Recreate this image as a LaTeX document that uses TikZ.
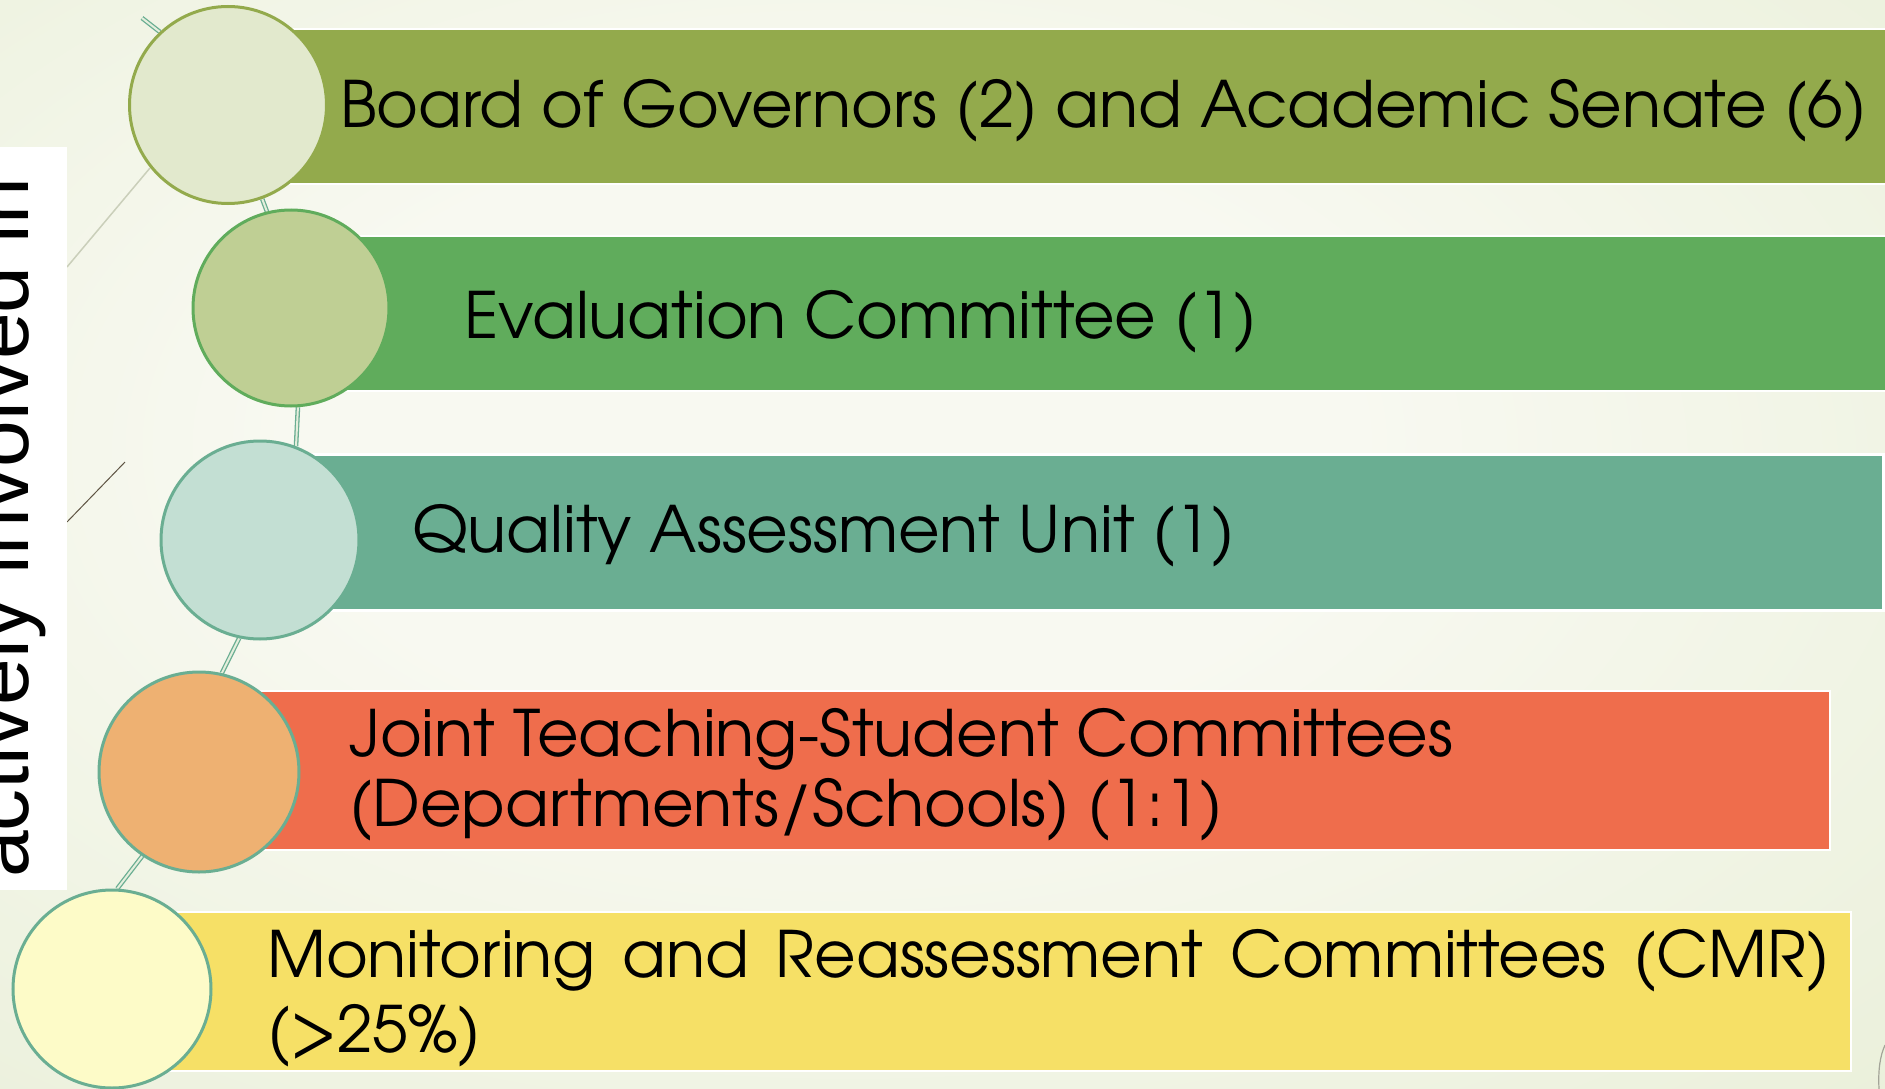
\documentclass[tikz,border=0pt]{standalone}
\usepackage{fontspec}
\setmainfont{TeX Gyre Adventor}
\newfontfamily\sidefont{Liberation Sans}
\definecolor{bgmid}{HTML}{F8F9F1}
\definecolor{bgedge}{HTML}{E6EDD3}
\definecolor{bgcorner}{HTML}{E0E8CB}
\definecolor{barA}{HTML}{93AA4C}
\definecolor{barB}{HTML}{60AC5C}
\definecolor{barC}{HTML}{6AAE92}
\definecolor{barD}{HTML}{EF6D4C}
\definecolor{barE}{HTML}{F6E066}
\definecolor{cirA}{HTML}{E2E9CD}
\definecolor{cirB}{HTML}{BFCF94}
\definecolor{cirC}{HTML}{C3DFD3}
\definecolor{cirD}{HTML}{EEB172}
\definecolor{cirE}{HTML}{FDFBC8}
\definecolor{connin}{HTML}{E4EEDC}
\definecolor{decoA}{HTML}{CACFBA}
\definecolor{decoB}{HTML}{5E5443}
\definecolor{decoC}{HTML}{A3A498}
\pgfdeclareradialshading{bgshade}{\pgfpoint{-4bp}{6bp}}{color(0bp)=(bgmid); color(14bp)=(bgmid); color(48bp)=(bgedge); color(72bp)=(bgcorner)}
\pgfdeclarelayer{bglayer}
\pgfdeclarelayer{midlayer}
\pgfsetlayers{bglayer,midlayer,main}
\tikzset{
  circ/.style={circle, inner sep=0pt, line width=3pt},
  barbox/.style={rectangle, inner sep=0pt, draw=white, line width=2pt, anchor=north west},
  bartext/.style={inner sep=0pt, anchor=base west, text=black, font=\fontsize{64}{72}\selectfont},
  conn/.style={draw=barC, line width=1.3pt, double=connin, double distance=2pt},
}
\begin{document}
\begin{tikzpicture}[x=1pt,y=-1pt]
\useasboundingbox (0,0) rectangle (1885,1089);
% circles
\node[circ, fill=cirA, draw=barA, minimum size=197pt] (c1) at (228,105) {};
\node[circ, fill=cirB, draw=barB, minimum size=196pt] (c2) at (291,308) {};
\node[circ, fill=cirC, draw=barC, minimum size=198pt] (c3) at (260,540) {};
\node[circ, fill=cirD, draw=barC, minimum size=200pt] (c4) at (199,772) {};
\node[circ, fill=cirE, draw=barC, minimum size=198pt] (c5) at (112,989) {};
% text
\node[bartext] (t1) at (340,128) {Board of Governors (2) and Academic Senate (6)};
\node[bartext] (t2) at (464,338) {Evaluation Committee (1)};
\node[bartext] (t3) at (412,552) {Quality Assessment Unit (1)};
\node[bartext] (t4a) at (349,756) {Joint Teaching-Student Committees};
\node[bartext] (t4b) at (349,826) {(Departments/Schools) (1:1)};
\node[bartext] (t5a) at (267,977) {\makebox[1563pt][s]{Monitoring and Reassessment Committees (CMR)}};
\node[bartext] (t5b) at (267,1052) {(>25\%)};
\begin{pgfonlayer}{midlayer}
\node[barbox, fill=barA, minimum width=1670pt, minimum height=155pt] (b1) at (228,28) {};
\node[barbox, fill=barB, minimum width=1610pt, minimum height=155pt] (b2) at (291,235) {};
\node[barbox, fill=barC, minimum width=1622pt, minimum height=156pt, line width=3pt] (b3) at (260,453) {};
\node[barbox, fill=barD, minimum width=1630pt, minimum height=159pt] (b4) at (199,690) {};
\node[barbox, fill=barE, minimum width=1738pt, minimum height=159pt] (b5) at (112,911) {};
\coordinate (spinetop) at (142,18);
\draw[conn] (spinetop) -- (c1.133);
\draw[conn] (c1.290) -- (c2.104);
\draw[conn] (c2.274) -- (c3.69);
\draw[conn] (c3.258) -- (c4.77);
\draw[conn] (c4.236) -- (c5.87);
\end{pgfonlayer}
\begin{pgfonlayer}{bglayer}
\shade[shading=bgshade] (0,0) rectangle (1885,1089);
\draw[decoA, line width=1.5pt] (67,267) -- (150,168);
\draw[decoB, line width=1pt] (67,522) -- (125,462);
\draw[decoC, line width=1.2pt] (1879,1089) .. controls (1878,1070) and (1880,1056) .. (1885,1045);
\node[fill=white, inner sep=0pt, minimum width=67pt, minimum height=743pt, anchor=north west] (sidebox) at (0,147) {};
\node[rotate=90, anchor=base west, inner sep=0pt, font=\sidefont\fontsize{84}{90}\selectfont] (side) at (28,878) {actively involved in};
\end{pgfonlayer}
\end{tikzpicture}
\end{document}
